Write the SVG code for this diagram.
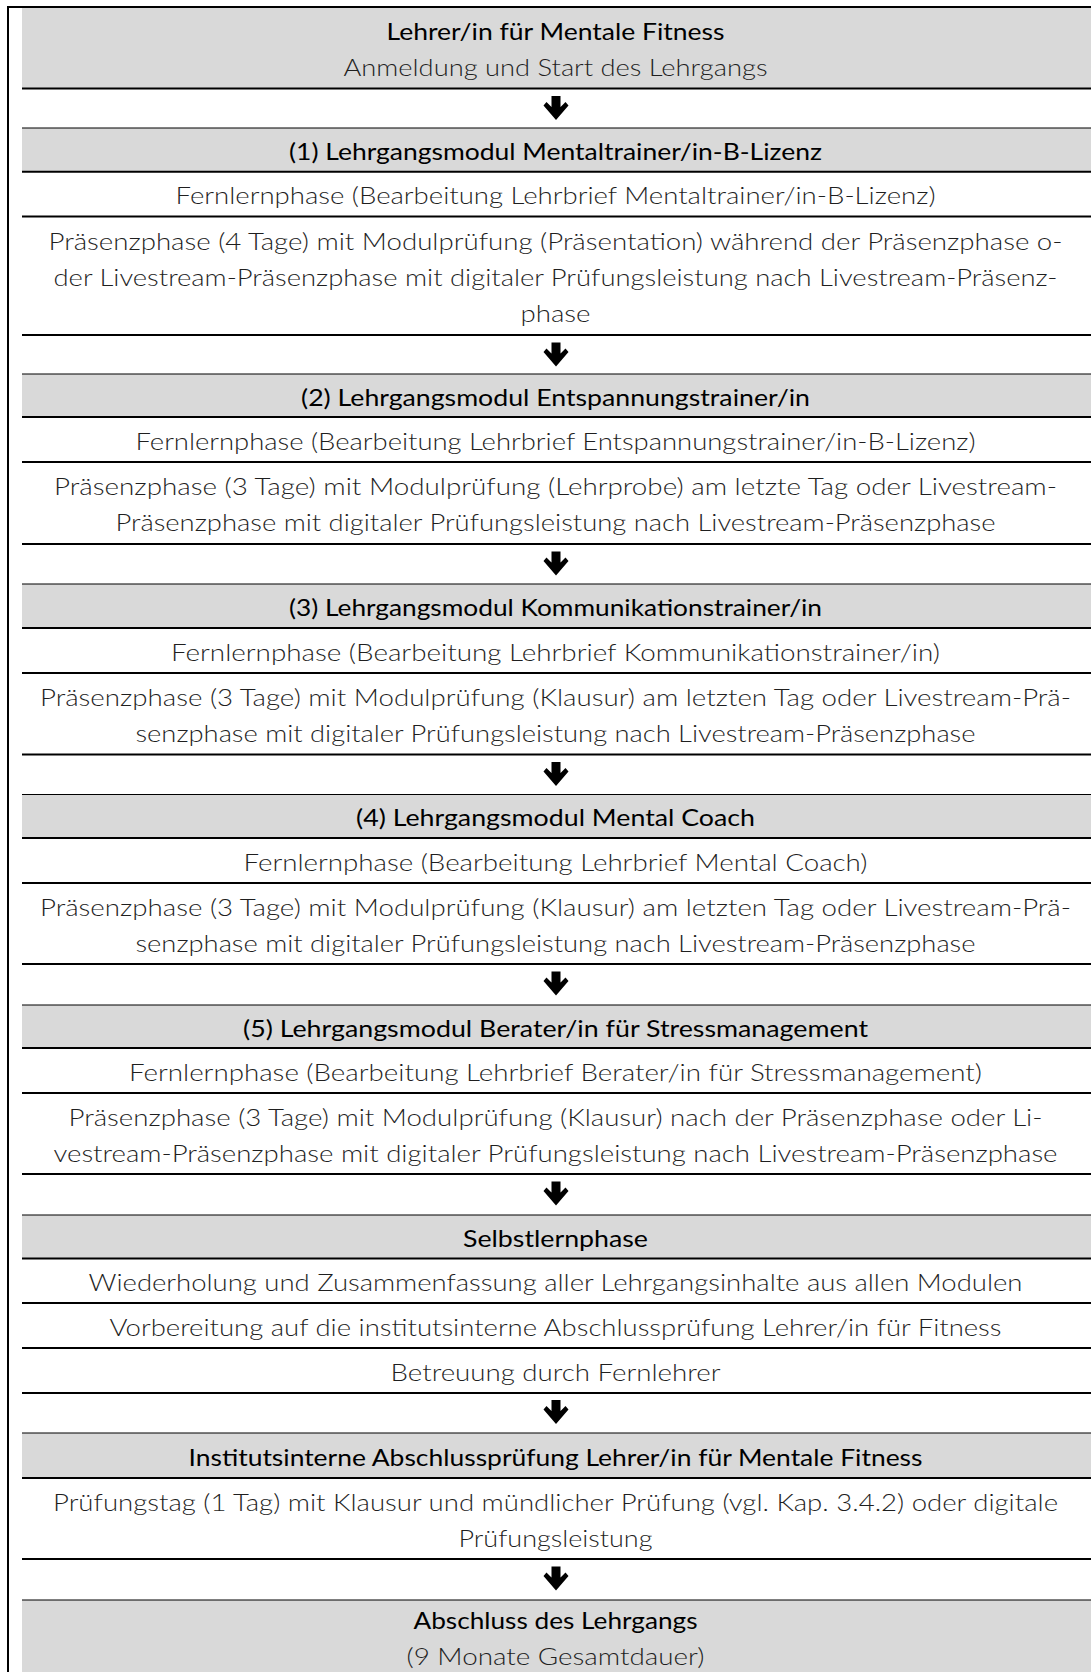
<svg xmlns="http://www.w3.org/2000/svg" width="1091" height="1672" viewBox="0 0 1091 1672">
<style>
.bg{fill:#ffffff}
.head{fill:#d9d9d9}
.frame{stroke:#000;stroke-width:2;fill:none}
.thick{stroke:#000;stroke-width:2}
.thin{stroke:#000;stroke-width:1.2}
text{font-family:"Lato","Liberation Sans",sans-serif;font-size:23px;text-anchor:middle}
.h{fill:#000;font-weight:400}
.b{fill:#1f1f1f;font-weight:300}
.arrow{fill:#000}
</style>
<defs>
<path id="arr" d="M-4.5 0 H4.5 V11 L9.5 6 L12.5 9.5 L0 24 L-12.5 9.5 L-9.5 6 L-4.5 11 Z"/>
</defs>
<rect class="bg" x="0" y="0" width="1091" height="1672"/>
<g id="frame">
<path class="frame" d="M8 1672 V7 H1091"/>
</g>

<g id="start">
<rect class="head" x="22" y="8" width="1069" height="80.5"/>
<text class="h" x="555.5" y="40" textLength="338" lengthAdjust="spacingAndGlyphs">Lehrer/in für Mentale Fitness</text>
<text class="b" x="555.5" y="76" textLength="424" lengthAdjust="spacingAndGlyphs">Anmeldung und Start des Lehrgangs</text>
</g>

<g id="m1-head">
<rect class="head" x="22" y="128" width="1069" height="43.7"/>
<text class="h" x="555.5" y="160" textLength="533" lengthAdjust="spacingAndGlyphs">(1) Lehrgangsmodul Mentaltrainer/in-B-Lizenz</text>
</g>
<g id="m1-fern">
<text class="b" x="555.5" y="204" textLength="760" lengthAdjust="spacingAndGlyphs">Fernlernphase (Bearbeitung Lehrbrief Mentaltrainer/in-B-Lizenz)</text>
</g>
<g id="m1-praes">
<text class="b" x="555.5" y="249.8" textLength="1014" lengthAdjust="spacingAndGlyphs">Präsenzphase (4 Tage) mit Modulprüfung (Präsentation) während der Präsenzphase o-</text>
<text class="b" x="555.5" y="285.8" textLength="1004" lengthAdjust="spacingAndGlyphs">der Livestream-Präsenzphase mit digitaler Prüfungsleistung nach Livestream-Präsenz-</text>
<text class="b" x="555.5" y="321.8" textLength="70" lengthAdjust="spacingAndGlyphs">phase</text>
</g>

<g id="m2-head">
<rect class="head" x="22" y="374" width="1069" height="43"/>
<text class="h" x="555.5" y="405.5" textLength="509" lengthAdjust="spacingAndGlyphs">(2) Lehrgangsmodul Entspannungstrainer/in</text>
</g>
<g id="m2-fern">
<text class="b" x="555.5" y="449.5" textLength="840" lengthAdjust="spacingAndGlyphs">Fernlernphase (Bearbeitung Lehrbrief Entspannungstrainer/in-B-Lizenz)</text>
</g>
<g id="m2-praes">
<text class="b" x="555.5" y="495" textLength="1003" lengthAdjust="spacingAndGlyphs">Präsenzphase (3 Tage) mit Modulprüfung (Lehrprobe) am letzte Tag oder Livestream-</text>
<text class="b" x="555.5" y="531" textLength="880" lengthAdjust="spacingAndGlyphs">Präsenzphase mit digitaler Prüfungsleistung nach Livestream-Präsenzphase</text>
</g>

<g id="m3-head">
<rect class="head" x="22" y="584" width="1069" height="44"/>
<text class="h" x="555.5" y="616" textLength="533" lengthAdjust="spacingAndGlyphs">(3) Lehrgangsmodul Kommunikationstrainer/in</text>
</g>
<g id="m3-fern">
<text class="b" x="555.5" y="660.5" textLength="769" lengthAdjust="spacingAndGlyphs">Fernlernphase (Bearbeitung Lehrbrief Kommunikationstrainer/in)</text>
</g>
<g id="m3-praes">
<text class="b" x="555.5" y="705.5" textLength="1031" lengthAdjust="spacingAndGlyphs">Präsenzphase (3 Tage) mit Modulprüfung (Klausur) am letzten Tag oder Livestream-Prä-</text>
<text class="b" x="555.5" y="741.5" textLength="840" lengthAdjust="spacingAndGlyphs">senzphase mit digitaler Prüfungsleistung nach Livestream-Präsenzphase</text>
</g>

<g id="m4-head">
<rect class="head" x="22" y="794.5" width="1069" height="43.5"/>
<text class="h" x="555.5" y="826" textLength="399" lengthAdjust="spacingAndGlyphs">(4) Lehrgangsmodul Mental Coach</text>
</g>
<g id="m4-fern">
<text class="b" x="555.5" y="870.5" textLength="624" lengthAdjust="spacingAndGlyphs">Fernlernphase (Bearbeitung Lehrbrief Mental Coach)</text>
</g>
<g id="m4-praes">
<text class="b" x="555.5" y="915.5" textLength="1031" lengthAdjust="spacingAndGlyphs">Präsenzphase (3 Tage) mit Modulprüfung (Klausur) am letzten Tag oder Livestream-Prä-</text>
<text class="b" x="555.5" y="951.5" textLength="840" lengthAdjust="spacingAndGlyphs">senzphase mit digitaler Prüfungsleistung nach Livestream-Präsenzphase</text>
</g>

<g id="m5-head">
<rect class="head" x="22" y="1005" width="1069" height="43"/>
<text class="h" x="555.5" y="1036.5" textLength="625" lengthAdjust="spacingAndGlyphs">(5) Lehrgangsmodul Berater/in für Stressmanagement</text>
</g>
<g id="m5-fern">
<text class="b" x="555.5" y="1080.5" textLength="853" lengthAdjust="spacingAndGlyphs">Fernlernphase (Bearbeitung Lehrbrief Berater/in für Stressmanagement)</text>
</g>
<g id="m5-praes">
<text class="b" x="555.5" y="1125.5" textLength="974" lengthAdjust="spacingAndGlyphs">Präsenzphase (3 Tage) mit Modulprüfung (Klausur) nach der Präsenzphase oder Li-</text>
<text class="b" x="555.5" y="1161.5" textLength="1004" lengthAdjust="spacingAndGlyphs">vestream-Präsenzphase mit digitaler Prüfungsleistung nach Livestream-Präsenzphase</text>
</g>

<g id="selbst-head">
<rect class="head" x="22" y="1215" width="1069" height="43.5"/>
<text class="h" x="555.5" y="1247" textLength="185" lengthAdjust="spacingAndGlyphs">Selbstlernphase</text>
</g>
<g id="selbst-wied">
<text class="b" x="555.5" y="1291" textLength="934" lengthAdjust="spacingAndGlyphs">Wiederholung und Zusammenfassung aller Lehrgangsinhalte aus allen Modulen</text>
</g>
<g id="selbst-vorb">
<text class="b" x="555.5" y="1335.5" textLength="892" lengthAdjust="spacingAndGlyphs">Vorbereitung auf die institutsinterne Abschlussprüfung Lehrer/in für Fitness</text>
</g>
<g id="selbst-betr">
<text class="b" x="555.5" y="1380.5" textLength="330" lengthAdjust="spacingAndGlyphs">Betreuung durch Fernlehrer</text>
</g>

<g id="exam-head">
<rect class="head" x="22" y="1433" width="1069" height="45"/>
<text class="h" x="555.5" y="1465.5" textLength="734" lengthAdjust="spacingAndGlyphs">Institutsinterne Abschlussprüfung Lehrer/in für Mentale Fitness</text>
</g>
<g id="exam-day">
<text class="b" x="555.5" y="1510.5" textLength="1005" lengthAdjust="spacingAndGlyphs">Prüfungstag (1 Tag) mit Klausur und mündlicher Prüfung (vgl. Kap. 3.4.2) oder digitale</text>
<text class="b" x="555.5" y="1546.5" textLength="194" lengthAdjust="spacingAndGlyphs">Prüfungsleistung</text>
</g>

<g id="end">
<rect class="head" x="22" y="1600" width="1069" height="72"/>
<text class="h" x="555.5" y="1629" textLength="284" lengthAdjust="spacingAndGlyphs">Abschluss des Lehrgangs</text>
<text class="b" x="555.5" y="1665" textLength="298" lengthAdjust="spacingAndGlyphs">(9 Monate Gesamtdauer)</text>
</g>

<g id="grid">
<line class="thick" x1="22" x2="1091" y1="88.5" y2="88.5"/>
<line class="thin" x1="22" x2="1091" y1="128" y2="128"/>
<line class="thick" x1="22" x2="1091" y1="171.7" y2="171.7"/>
<line class="thick" x1="22" x2="1091" y1="216.5" y2="216.5"/>
<line class="thick" x1="22" x2="1091" y1="335" y2="335"/>
<line class="thin" x1="22" x2="1091" y1="374" y2="374"/>
<line class="thick" x1="22" x2="1091" y1="417" y2="417"/>
<line class="thick" x1="22" x2="1091" y1="462" y2="462"/>
<line class="thick" x1="22" x2="1091" y1="544" y2="544"/>
<line class="thin" x1="22" x2="1091" y1="584" y2="584"/>
<line class="thick" x1="22" x2="1091" y1="628" y2="628"/>
<line class="thick" x1="22" x2="1091" y1="673" y2="673"/>
<line class="thick" x1="22" x2="1091" y1="754.5" y2="754.5"/>
<line class="thin" x1="22" x2="1091" y1="794.5" y2="794.5"/>
<line class="thick" x1="22" x2="1091" y1="838" y2="838"/>
<line class="thick" x1="22" x2="1091" y1="883" y2="883"/>
<line class="thick" x1="22" x2="1091" y1="964" y2="964"/>
<line class="thin" x1="22" x2="1091" y1="1005" y2="1005"/>
<line class="thick" x1="22" x2="1091" y1="1048" y2="1048"/>
<line class="thick" x1="22" x2="1091" y1="1093" y2="1093"/>
<line class="thick" x1="22" x2="1091" y1="1174" y2="1174"/>
<line class="thin" x1="22" x2="1091" y1="1215" y2="1215"/>
<line class="thick" x1="22" x2="1091" y1="1258.5" y2="1258.5"/>
<line class="thick" x1="22" x2="1091" y1="1303" y2="1303"/>
<line class="thick" x1="22" x2="1091" y1="1348" y2="1348"/>
<line class="thick" x1="22" x2="1091" y1="1393" y2="1393"/>
<line class="thin" x1="22" x2="1091" y1="1433" y2="1433"/>
<line class="thick" x1="22" x2="1091" y1="1478" y2="1478"/>
<line class="thick" x1="22" x2="1091" y1="1559" y2="1559"/>
<line class="thin" x1="22" x2="1091" y1="1600" y2="1600"/>
</g>

<g id="connectors" class="arrow">
<use href="#arr" x="556" y="96"/>
<use href="#arr" x="556" y="342.5"/>
<use href="#arr" x="556" y="551.5"/>
<use href="#arr" x="556" y="762"/>
<use href="#arr" x="556" y="971.5"/>
<use href="#arr" x="556" y="1181.5"/>
<use href="#arr" x="556" y="1400"/>
<use href="#arr" x="556" y="1566.5"/>
</g>
</svg>
